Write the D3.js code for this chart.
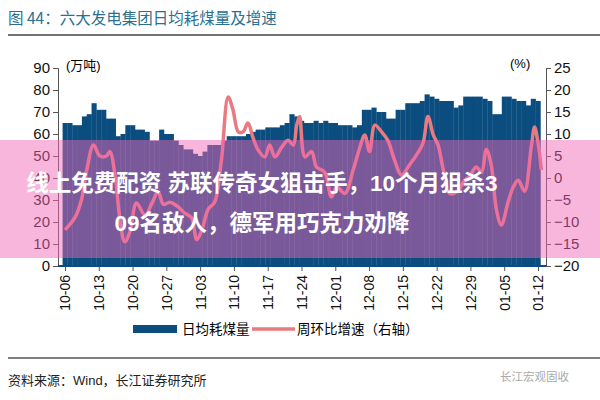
<!DOCTYPE html>
<html><head><meta charset="utf-8">
<script src="https://cdn.jsdelivr.net/npm/d3@7"></script>
<style>
body{margin:0;background:#fff;}
text{font-family:"Liberation Sans","Noto Sans CJK SC",sans-serif;}
</style></head>
<body><svg id="c" width="600" height="400"></svg>
<script>
// daily coal use (万吨), day 0 = 10-06
const coalUse = [65,65,64,64,68,69,74,71,71,67,67,59,60,64,64,62,62,61,57,57,
  62,60,60,57,55,53,53,51,50,52,55,55,55,57,59,59,59,59,60,61,
  62,62,63,63,63,64,65,69,68,66,65,65,66,65,66,65,65,64,64,64,
  63,64,71,71,72,70,70,67,67,71,71,74,74,74,75,78,77,76,75,75,
  75,72,73,77,77,77,77,76,75,69,69,77,77,76,75,75,73,76,75];
// week-on-week growth (%), sampled at day positions
const growthDay = [0,2.1,3.4,4.5,5.9,7.2,8.6,9.3,10.4,11.4,12.4,13.5,14.8,16.6,17.9,19.3,20.4,21.7,23.5,24.8,
  26.2,27.3,28.3,29.7,31,32.4,33.8,34.8,35.9,36.9,37.9,39,40,41.4,42.4,43.5,44.9,46.2,47.3,48,48.6,
  49.7,51.1,52.1,53.8,55.2,56.3,58,59.7,61.1,62.1,63.1,64.2,65.6,66.9,68.3,69.7,71.4,73.1,74.2,75.2,
  76.3,77.3,78.3,79.7,81.4,82.5,83.9,85.2,86.3,87.3,88.3,89.4,90.4,91.8,92.9,93.9,95.2,96.6,97.3,98,98.7];
const growth = [-11.8,-8.9,-5,1.8,7.5,5,5,6,0.3,-9.5,-14.5,-12,-5.7,-8.5,-6,-3.2,-6,-5.5,-6.6,-8,
  -9,-14,-12,-7,-5.5,4,18.4,15.5,10.5,10.5,12.5,9,6.4,4.8,7.5,4.8,7,8.6,7.5,12,14,
  4.8,6,2.5,1.3,-4.3,-2,-3.5,1.8,7,9.8,6,12,10.5,8.5,4,0.7,3,5.7,8,14,
  9.8,7.5,2.3,-3.5,-3,-1,0.5,2.5,1.3,6.5,3,-7.3,-10.7,-5.5,-2,-0.5,-3,7,11.6,8,1.8];
const tickDays = [0,7,14,21,28,35,42,49,56,63,70,77,84,91,98];
const tickLabels = ["10-06","10-13","10-20","10-27","11-03","11-10","11-17","11-24","12-01","12-08","12-15","12-22","12-29","01-05","01-12"];

const svg = d3.select("#c");
const x = d3.scaleLinear().domain([0,98]).range([65,538]);
const yL = d3.scaleLinear().domain([0,90]).range([266,68]);
const yR = d3.scaleLinear().domain([-20,25]).range([266,68]);
const bw = x(1)-x(0);

svg.append("text").attr("x",8).attr("y",24).attr("fill","#2a6f8f")
  .style("font-size","15.5px").style("font-family","Noto Sans CJK SC").text("图 44：六大发电集团日均耗煤量及增速");
svg.append("line").attr("x1",8).attr("x2",600).attr("y1",35).attr("y2",35).attr("stroke","#444").attr("stroke-width",1.5);

svg.append("g").selectAll("rect").data(coalUse).join("rect")
  .attr("x",(d,i)=>x(i)-bw/2).attr("width",bw+0.3)
  .attr("y",d=>yL(d)).attr("height",d=>yL(0)-yL(d)).attr("fill","#0b4d7f");

svg.append("path").datum(growth.map((v,i)=>[growthDay[i],v]))
  .attr("fill","none").attr("stroke","#e87a80").attr("stroke-width",3.5)
  .attr("d",d3.line().x(d=>x(d[0])).y(d=>yR(d[1])).curve(d3.curveCatmullRom));

const gl = svg.append("g").attr("transform","translate(58,0)").call(d3.axisLeft(yL).tickValues(d3.range(0,91,10)).tickSize(5));
const gr = svg.append("g").attr("transform","translate(546,0)").call(d3.axisRight(yR).tickValues(d3.range(-20,26,5)).tickSize(5));
const gx = svg.append("g").attr("transform","translate(0,266)").call(d3.axisBottom(x).tickValues(tickDays).tickFormat((d,i)=>tickLabels[i]).tickSize(5));
[gl,gr,gx].forEach(g=>{
  g.select(".domain").attr("stroke","#555");
  g.selectAll(".tick line").attr("stroke","#555");
  g.selectAll("text").style("font-size","15px").attr("fill","#111");
});
gx.selectAll("text").style("font-size","14px");
gx.select(".domain").remove();
svg.append("line").attr("x1",58).attr("x2",546).attr("y1",266).attr("y2",266).attr("stroke","#0b4d7f").attr("stroke-width",2);
gx.selectAll("text").attr("transform","rotate(-90)").attr("text-anchor","end")
  .attr("x",-9).attr("y",0).attr("dy","0.35em");

svg.append("text").attr("x",66).attr("y",70).style("font-size","13px").text("(万吨)");
svg.append("text").attr("x",510).attr("y",68).style("font-size","13px").text("(%)");

// legend
svg.append("rect").attr("x",133).attr("y",325).attr("width",44).attr("height",8).attr("fill","#0b4d7f");
svg.append("text").attr("x",182).attr("y",334).style("font-size","13.5px").text("日均耗煤量");
svg.append("line").attr("x1",252).attr("x2",295).attr("y1",329).attr("y2",329).attr("stroke","#e87a80").attr("stroke-width",3.5);
svg.append("text").attr("x",297).attr("y",334).style("font-size","13.5px").text("周环比增速（右轴）");

svg.append("line").attr("x1",8).attr("x2",600).attr("y1",358).attr("y2",358).attr("stroke","#555").attr("stroke-width",1.5);
svg.append("text").attr("x",8).attr("y",385).style("font-size","13px").attr("fill","#222").text("资料来源：Wind，长江证券研究所");
svg.append("text").attr("x",500).attr("y",381).style("font-size","11.5px").attr("fill","#aaa").text("长江宏观固收");

// overlay band
svg.append("rect").attr("x",0).attr("y",140).attr("width",600).attr("height",118).attr("fill","rgba(242,103,182,0.48)");
const ov = svg.append("g").style("font-family","Noto Sans CJK SC").style("font-weight","bold").style("font-size","22.5px")
  .attr("fill","#fff").attr("text-anchor","middle");
ov.append("text").attr("x",262).attr("y",191).text("线上免费配资 苏联传奇女狙击手，10个月狙杀3");
ov.append("text").attr("x",262).attr("y",231).text("09名敌人，德军用巧克力劝降");
</script></body></html>
